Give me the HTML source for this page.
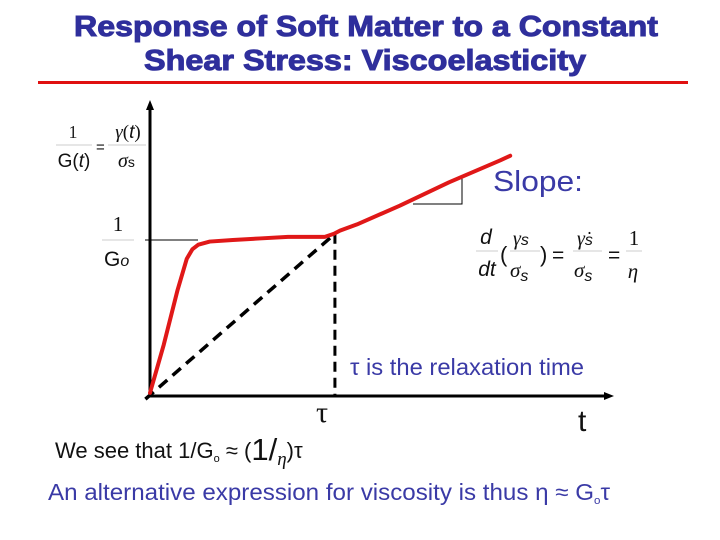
<!DOCTYPE html>
<html><head><meta charset="utf-8"><style>
body{margin:0;background:#fff;}
#wrap{position:relative;width:720px;height:540px;overflow:hidden;font-family:"Liberation Sans",sans-serif;}
</style></head><body>
<div id="wrap">
<svg width="720" height="540" id="svg">
<text x="74" y="36" textLength="584" lengthAdjust="spacingAndGlyphs" font-family="Liberation Sans" font-weight="bold" font-size="29" fill="#2f2f9c" stroke="#2f2f9c" stroke-width="1">Response of Soft Matter to a Constant</text>
<text x="144" y="70" textLength="442" lengthAdjust="spacingAndGlyphs" font-family="Liberation Sans" font-weight="bold" font-size="29" fill="#2f2f9c" stroke="#2f2f9c" stroke-width="1">Shear Stress: Viscoelasticity</text>
<rect x="38" y="81" width="650" height="3" fill="#e01010"/>
<g id="axes"></g>
<g id="marks"></g>
<g font-family="Liberation Serif">
<text x="73" y="138" text-anchor="middle" font-size="18" fill="#222">1</text>
<line x1="56" y1="145" x2="92" y2="145" stroke="#ccc" stroke-width="1"/>
<text x="74" y="167" text-anchor="middle" font-family="Liberation Sans" font-size="19" fill="#111">G(<tspan font-style="italic">t</tspan>)</text>
<text x="96" y="152" font-family="Liberation Sans" font-size="15" fill="#111">=</text>
<text x="128" y="138" text-anchor="middle" font-size="19" fill="#111"><tspan font-style="italic">γ</tspan>(<tspan font-family="Liberation Sans" font-style="italic">t</tspan>)</text>
<line x1="108" y1="145" x2="146" y2="145" stroke="#ccc" stroke-width="1"/>
<text x="118" y="167" font-size="20" font-style="italic" fill="#111">σ<tspan font-family="Liberation Sans" font-style="normal" font-size="14">s</tspan></text>
</g>
<g>
<text x="118" y="231" text-anchor="middle" font-family="Liberation Serif" font-size="21" fill="#111">1</text>
<line x1="102" y1="240" x2="134" y2="240" stroke="#ccc"/>
<text x="104" y="266" font-family="Liberation Sans" font-size="21" fill="#111">G<tspan font-style="italic" font-size="16">o</tspan></text>
</g>
<text x="493" y="191" textLength="90" lengthAdjust="spacingAndGlyphs" font-size="29" fill="#3a3aa6">Slope:</text>
<g fill="#111">
<text x="486" y="244" text-anchor="middle" font-size="21" font-style="italic">d</text>
<line x1="476" y1="251" x2="498" y2="251" stroke="#ccc"/>
<text x="487" y="276" text-anchor="middle" font-size="21" font-style="italic">dt</text>
<text x="500" y="262" font-size="22">(</text>
<text x="513" y="245" font-family="Liberation Serif" font-size="20" font-style="italic">γ<tspan font-family="Liberation Sans" font-size="16">s</tspan></text>
<line x1="510" y1="251" x2="540" y2="251" stroke="#ccc"/>
<text x="510" y="277" font-family="Liberation Serif" font-size="21" font-style="italic">σ<tspan font-family="Liberation Sans" font-size="16" dy="4">s</tspan></text>
<text x="540" y="262" font-size="22">)</text>
<text x="552" y="262" font-size="21">=</text>
<text x="577" y="245" font-family="Liberation Serif" font-size="20" font-style="italic">γ̇<tspan font-family="Liberation Sans" font-size="16">s</tspan></text>
<line x1="573" y1="251" x2="602" y2="251" stroke="#ccc"/>
<text x="574" y="277" font-family="Liberation Serif" font-size="21" font-style="italic">σ<tspan font-family="Liberation Sans" font-size="16" dy="4">s</tspan></text>
<text x="608" y="262" font-size="21">=</text>
<text x="634" y="245" text-anchor="middle" font-family="Liberation Serif" font-size="21">1</text>
<line x1="626" y1="251" x2="642" y2="251" stroke="#ccc"/>
<text x="633" y="278" text-anchor="middle" font-family="Liberation Serif" font-size="21" font-style="italic">η</text>
</g>
<text x="350" y="375" textLength="234" lengthAdjust="spacingAndGlyphs" font-size="23" fill="#3a3aa6">τ is the relaxation time</text>
<text x="316" y="422" font-family="Liberation Serif" font-size="30" fill="#111">τ</text>
<text x="578" y="431" font-size="30" fill="#111">t</text>
<text x="55" y="458" font-size="22" fill="#111">We see that 1/G<tspan font-size="11" dy="4">o</tspan><tspan dy="-4"> ≈ (</tspan><tspan font-size="31" dy="2">1</tspan><tspan font-size="31">/</tspan><tspan font-family="Liberation Serif" font-style="italic" font-size="19" dy="5">η</tspan><tspan dy="-7">)τ</tspan></text>
<text x="48" y="500" textLength="562" lengthAdjust="spacingAndGlyphs" font-size="23" fill="#3a3aa6">An alternative expression for viscosity is thus η ≈ G<tspan font-size="11" dy="4">o</tspan><tspan dy="-4">τ</tspan></text>
</svg>
</div>
<script>
const curveT = [0, 0.3, 0.6, 0.80, 0.92, 1.05, 1.30, 1.8, 2.39, 3.0, 3.5, 3.80, 4.0, 4.13, 4.5, 5.43, 6.5, 7.61, 7.83];
const curveV = [0.02, 0.33, 0.68, 0.88, 0.94, 0.97, 0.99, 1.00, 1.01, 1.02, 1.02, 1.02, 1.04, 1.06, 1.10, 1.22, 1.37, 1.51, 1.54];
const tau = 4.02;
const plateau = 1.0;
const xS = t => 150 + t * 46;
const yS = v => 396 - v * 156;
const NS = "http://www.w3.org/2000/svg";
const axes = document.getElementById('axes');
const marks = document.getElementById('marks');
function mk(tag, attrs, parent){const e=document.createElementNS(NS,tag);for(const k in attrs)e.setAttribute(k,attrs[k]);parent.appendChild(e);return e;}
let a = mk('line',{x1:150,y1:397,x2:150,y2:108,stroke:'#000','stroke-width':3},axes);


a = mk('polygon',{points:'150,100 146,110 154,110',fill:'#000'},axes);


a = mk('line',{x1:148,y1:396,x2:606,y2:396,stroke:'#000','stroke-width':3},axes);


a = mk('polygon',{points:'614,396 604,392 604,400',fill:'#000'},axes);


a = mk('line',{x1:145,y1:yS(plateau),x2:198,y2:yS(plateau),stroke:'#000','stroke-width':1},axes);


a = mk('polyline',{points:'413,204 462,204 462,178',fill:'none',stroke:'#000','stroke-width':1},axes);


const tauV = 1.04;
a = mk('line',{x1:xS(-0.1),y1:yS(-0.02),x2:xS(tau),y2:yS(tauV),stroke:'#000','stroke-width':3.5,'stroke-dasharray':'11,7'},marks);


a = mk('line',{x1:xS(tau),y1:yS(tauV),x2:xS(tau),y2:396,stroke:'#000','stroke-width':3,'stroke-dasharray':'10,6'},marks);


a = mk('polyline',{points:curveT.map((t,i)=>xS(t)+','+yS(curveV[i])).join(' '),fill:'none',stroke:'#e01818','stroke-width':4,'stroke-linejoin':'round','stroke-linecap':'round'},marks);


</script>
</body></html>
